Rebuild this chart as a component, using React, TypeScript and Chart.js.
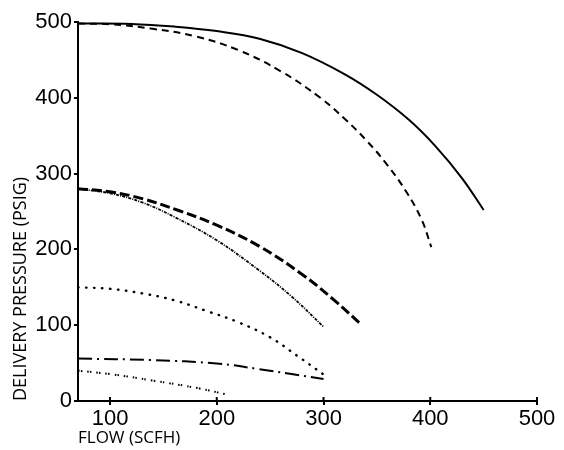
import React, { useEffect, useRef } from "react";
import { Chart, registerables } from "chart.js";

Chart.register(...registerables);

const xTicks = [100, 200, 300, 400, 500];
const yTicks = [0, 100, 200, 300, 400, 500];

const solidX = [70, 120, 160, 200, 240, 280, 320, 350, 380, 405, 430, 450];
const solidY = [498, 497.5, 494, 488, 478, 459, 431, 404, 371, 336, 293.5, 252];

const dashX = [70, 100, 140, 180, 220, 260, 297, 320, 340, 360, 378, 392, 401];
const dashY = [498, 497, 491, 481, 463, 435, 400, 372, 344, 311, 275, 239, 203];

const longDashX = [70, 100, 130, 165, 200, 240, 280, 310, 336];
const longDashY = [280, 276, 267, 251, 232, 204, 167, 133, 100];

const fineX = [70, 100, 130, 160, 200, 240, 270, 300];
const fineY = [280, 274, 262, 243, 212, 172, 138, 98];

const dotX = [70, 100, 130, 160, 190, 220, 250, 275, 300];
const dotY = [150, 148, 142, 133, 119, 104, 84, 60, 35];

const dashDotX = [70, 140, 200, 240, 270, 300];
const dashDotY = [56, 54, 49.5, 42, 35.5, 29];

const denseX = [70, 100, 140, 184, 208];
const denseY = [40, 35.5, 27, 16.5, 9];

const pts = (xs: number[], ys: number[]) => xs.map((x, i) => ({ x, y: ys[i] }));

const innerTicks = {
  id: "innerTicks",
  afterDraw(chart: any) {
    const ctx = chart.ctx;
    const xs = chart.scales.x;
    const y0 = chart.chartArea.bottom;
    ctx.save();
    ctx.strokeStyle = "#000";
    ctx.lineWidth = 2;
    xs.ticks.forEach((t: any) => {
      const px = xs.getPixelForValue(t.value);
      ctx.beginPath();
      ctx.moveTo(px, y0);
      ctx.lineTo(px, y0 - 4);
      ctx.stroke();
    });
    ctx.restore();
  },
};

export default function App() {
  const ref = useRef<HTMLCanvasElement | null>(null);
  useEffect(() => {
    if (!ref.current) return;
    const base = {
      borderColor: "#000",
      pointRadius: 0,
      fill: false,
      tension: 0.4,
    };
    const chart = new Chart(ref.current, {
      type: "line",
      data: {
        datasets: [
          { ...base, data: pts(solidX, solidY), borderWidth: 2 },
          { ...base, data: pts(dashX, dashY), borderWidth: 2, borderDash: [7, 5] },
          { ...base, data: pts(longDashX, longDashY), borderWidth: 3, borderDash: [10, 4] },
          { ...base, data: pts(fineX, fineY), borderWidth: 1.8, borderDash: [3, 1.2, 1, 1.2] },
          { ...base, data: pts(dotX, dotY), borderWidth: 2.4, borderDash: [0.5, 7.5], borderCapStyle: "round" },
          { ...base, data: pts(dashDotX, dashDotY), borderWidth: 2, borderDash: [14, 5, 2, 5] },
          { ...base, data: pts(denseX, denseY), borderWidth: 2, borderDash: [1.5, 1.2, 1.5, 5] },
        ],
      },
      options: {
        responsive: false,
        animation: false,
        layout: { padding: { top: 22, right: 27, left: 0, bottom: 0 } },
        plugins: { legend: { display: false }, tooltip: { enabled: false } },
        scales: {
          x: {
            type: "linear",
            min: 70,
            max: 500,
            afterBuildTicks: (s: any) => {
              s.ticks = xTicks.map((v) => ({ value: v }));
            },
            afterFit: (s: any) => {
              s.height = 49;
            },
            border: { color: "#000", width: 2 },
            grid: { drawOnChartArea: false, drawTicks: true, tickLength: 4, tickColor: "#000", lineWidth: 2 },
            ticks: { color: "#000", font: { family: "Liberation Sans", size: 22 }, padding: 1 },
            title: {
              display: true,
              text: "FLOW (SCFH)",
              align: "start",
              color: "#000",
              font: { family: "Open Sans", size: 17 },
              padding: { top: 0, bottom: 2 },
            },
          },
          y: {
            type: "linear",
            min: 0,
            max: 500,
            afterBuildTicks: (s: any) => {
              s.ticks = yTicks.map((v) => ({ value: v }));
            },
            afterFit: (s: any) => {
              s.width = 78;
            },
            border: { color: "#000", width: 2 },
            grid: { drawOnChartArea: false, drawTicks: true, tickLength: 4, tickColor: "#000", lineWidth: 2 },
            ticks: { color: "#000", font: { family: "Liberation Sans", size: 22 }, padding: 2 },
            title: {
              display: true,
              text: "DELIVERY PRESSURE (PSIG)",
              align: "start",
              color: "#000",
              font: { family: "Open Sans", size: 18 },
              padding: { top: 10, bottom: 0 },
            },
          },
        },
      },
      plugins: [innerTicks],
    });
    return () => chart.destroy();
  }, []);
  return (
    <div style={{ position: "fixed", left: 0, top: 0, width: 564, height: 450, background: "#fff" }}>
      <canvas ref={ref} width={564} height={450} />
    </div>
  );
}
